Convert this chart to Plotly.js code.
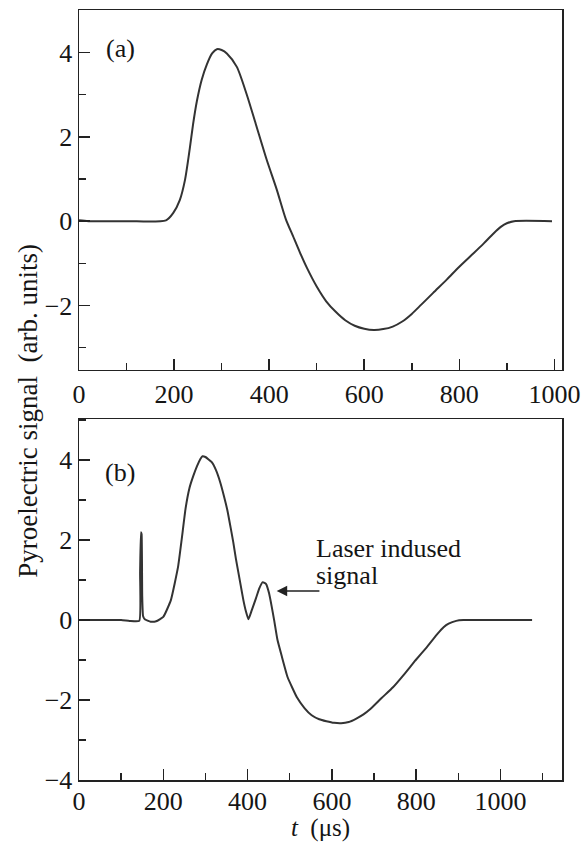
<!DOCTYPE html>
<html>
<head>
<meta charset="utf-8">
<script src="https://cdn.plot.ly/plotly-3.0.1.min.js"></script>
<style>
  html, body { margin: 0; padding: 0; background: #fff; }
  #chart { width: 582px; height: 842px; }
</style>
</head>
<body>
<div id="chart"></div>
<script>
// Panel (a): pyroelectric signal without laser
const tA = [0, 20, 100, 183, 198, 212, 223, 233, 240, 248, 258, 269, 280, 290, 300, 311, 332, 353, 372, 395, 416, 435, 450, 465, 480, 500, 520, 540, 560, 580, 600, 620, 640, 660, 680, 700, 720, 745, 774, 800, 830, 852, 872, 888, 900, 915, 995];
const signalA = [0.02, 0, 0, 0.02, 0.19, 0.5, 0.98, 1.72, 2.3, 2.85, 3.35, 3.72, 3.98, 4.08, 4.06, 3.98, 3.66, 3.0, 2.3, 1.45, 0.75, 0.05, -0.35, -0.75, -1.12, -1.55, -1.9, -2.15, -2.35, -2.48, -2.55, -2.58, -2.56, -2.5, -2.38, -2.2, -1.98, -1.7, -1.38, -1.08, -0.76, -0.52, -0.29, -0.13, -0.05, 0, 0];

// Panel (b): pyroelectric signal with laser induced signal
const tB = [0, 100, 120, 143, 145, 147, 148.5, 150, 152, 156, 170, 183, 200, 218, 235, 244, 253, 262, 271, 280, 288, 293, 300, 315, 325, 335, 344, 352, 360, 366, 372, 378, 384, 390, 396, 402, 410, 420, 428, 436, 444, 451, 457, 463, 471, 481, 495, 517, 535, 552, 570, 587, 605, 622, 640, 657, 675, 692, 718, 745, 772, 798, 825, 851, 865, 877, 895, 912, 1075];
const signalB = [0, 0, -0.02, -0.02, 1.2, 2.2, 2.15, 0.6, 0.1, 0.02, -0.04, -0.03, 0.08, 0.5, 1.33, 2.05, 2.8, 3.3, 3.6, 3.85, 4.03, 4.1, 4.08, 3.95, 3.75, 3.45, 3.1, 2.75, 2.3, 1.95, 1.55, 1.2, 0.85, 0.5, 0.22, 0.02, 0.25, 0.55, 0.8, 0.95, 0.9, 0.67, 0.35, 0.0, -0.5, -0.9, -1.43, -1.93, -2.2, -2.38, -2.48, -2.53, -2.57, -2.58, -2.55, -2.47, -2.36, -2.22, -1.95, -1.68, -1.35, -1.01, -0.68, -0.34, -0.18, -0.09, -0.02, 0, 0];

const xTickValsA = [0, 200, 400, 600, 800, 1000];
const xTickValsB = [0, 200, 400, 600, 800, 1000];
const yTickValsA = [-2, 0, 2, 4];
const yTickValsB = [-4, -2, 0, 2, 4];

const panelLabels = ['(a)', '(b)'];
const laserText = ['Laser indused', 'signal'];
const yTitle = 'Pyroelectric signal\u00A0\u00A0(arb. units)';
const xTitle = '<i>t</i>\u00A0\u00A0(\u03BCs)';

const FONT = '"Liberation Serif", "Times New Roman", Times, serif';
const INK = '#222';
const CURVE = '#333';
const TXT = '#151515';

const traces = [
  { x: tA, y: signalA, xaxis: 'x', yaxis: 'y', type: 'scatter', mode: 'lines',
    line: { color: CURVE, width: 2, shape: 'spline', smoothing: 0.7 }, hoverinfo: 'skip' },
  { x: tB, y: signalB, xaxis: 'x2', yaxis: 'y2', type: 'scatter', mode: 'lines',
    line: { color: CURVE, width: 2, shape: 'spline', smoothing: 0.4 }, hoverinfo: 'skip' }
];

function xAxis(range, tickvals, anchor, withTitle) {
  const ax = {
    range: range, anchor: anchor, domain: [0, 1],
    showline: true, mirror: true, linecolor: INK, linewidth: 1.5,
    showgrid: false, zeroline: false,
    ticks: 'inside', ticklen: 11, tickwidth: 1.5, tickcolor: INK,
    tickmode: 'array', tickvals: tickvals,
    minor: { tickmode: 'linear', tick0: 0, dtick: 100, ticks: 'inside', ticklen: 7, tickwidth: 1.5, tickcolor: INK },
    tickfont: { family: FONT, size: 26, color: TXT },
    fixedrange: true
  };
  if (withTitle) {
    ax.ticklabelstandoff = -3;
    ax.title = { text: xTitle, font: { family: FONT, size: 25, color: TXT }, standoff: 4 };
  }
  return ax;
}

function yAxis(range, tickvals, anchor, domain) {
  return {
    range: range, anchor: anchor, domain: domain,
    showline: true, mirror: true, linecolor: INK, linewidth: 1.5,
    showgrid: false, zeroline: false,
    ticks: 'inside', ticklen: 11, tickwidth: 1.5, tickcolor: INK,
    tickmode: 'array', tickvals: tickvals,
    minor: { tickmode: 'linear', tick0: 1, dtick: 2, ticks: 'inside', ticklen: 7, tickwidth: 1.5, tickcolor: INK },
    tickfont: { family: FONT, size: 26, color: TXT },
    fixedrange: true
  };
}

const annFont = { family: FONT, size: 26, color: TXT };

const layout = {
  width: 582, height: 842,
  font: { family: FONT, size: 26, color: TXT },
  margin: { l: 79, r: 20, t: 10, b: 62 },
  paper_bgcolor: '#fff', plot_bgcolor: '#fff',
  showlegend: false,
  xaxis: xAxis([0, 1016], xTickValsA, 'y', false),
  yaxis: yAxis([-3.53, 5.01], yTickValsA, 'x', [0.5325, 1]),
  xaxis2: xAxis([0, 1146], xTickValsB, 'y2', true),
  yaxis2: yAxis([-4, 5.03], yTickValsB, 'x2', [0, 0.4688]),
  annotations: [
    { text: panelLabels[0], x: 88, y: 4.09, xref: 'x', yref: 'y', showarrow: false,
      xanchor: 'center', yanchor: 'middle', font: annFont },
    { text: panelLabels[1], x: 98, y: 3.7, xref: 'x2', yref: 'y2', showarrow: false,
      xanchor: 'center', yanchor: 'middle', font: annFont },
    { text: laserText[0], x: 558, y: 1.8, xref: 'x2', yref: 'y2', showarrow: false,
      xanchor: 'left', yanchor: 'middle', font: annFont },
    { text: laserText[1], x: 558, y: 1.12, xref: 'x2', yref: 'y2', showarrow: false,
      xanchor: 'left', yanchor: 'middle', font: annFont },
    { text: '', x: 469, y: 0.73, xref: 'x2', yref: 'y2',
      ax: 574, ay: 0.73, axref: 'x2', ayref: 'y2',
      showarrow: true, arrowhead: 2, arrowsize: 1.4, arrowwidth: 1.5, arrowcolor: INK },
    { text: yTitle, x: -0.105, y: 0.48, xref: 'paper', yref: 'paper', showarrow: false,
      textangle: -90, xanchor: 'center', yanchor: 'middle',
      font: { family: FONT, size: 27, color: TXT } }
  ]
};

Plotly.newPlot('chart', traces, layout, { staticPlot: true, displayModeBar: false });
</script>
</body>
</html>
